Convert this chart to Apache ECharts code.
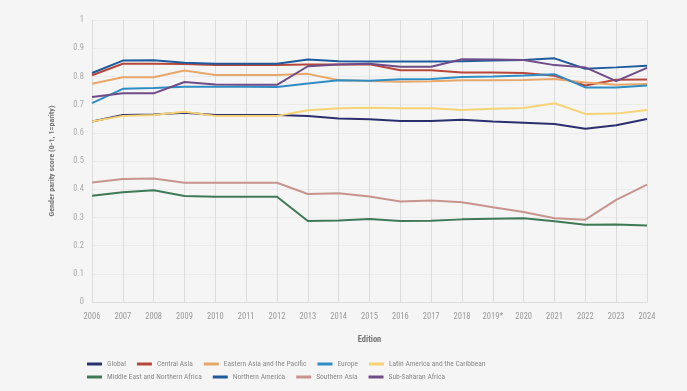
<!DOCTYPE html>
<html><head><meta charset="utf-8">
<script src="https://cdn.jsdelivr.net/npm/echarts@6/dist/echarts.min.js"></script>
<style>html,body{margin:0;padding:0;background:#f5f5f5;}#c{width:687px;height:391px;}</style>
</head><body><div id="c"></div>
<script>
const editions = ["2006","2007","2008","2009","2010","2011","2012","2013","2014","2015","2016","2017","2018","2019*","2020","2021","2022","2023","2024"];
const yTicks = [0,0.1,0.2,0.3,0.4,0.5,0.6,0.7,0.8,0.9,1];

const global = [0.640,0.663,0.665,0.671,0.663,0.663,0.663,0.660,0.651,0.648,0.642,0.642,0.646,0.640,0.636,0.631,0.614,0.627,0.649];
const centralAsia = [0.804,0.845,0.845,0.844,0.840,0.840,0.840,0.842,0.842,0.843,0.822,0.822,0.814,0.814,0.812,0.802,0.768,0.788,0.789];
const eastAsiaPacific = [0.774,0.797,0.797,0.821,0.805,0.805,0.805,0.809,0.786,0.784,0.781,0.783,0.786,0.786,0.787,0.791,0.778,0.770,0.773];
const europe = [0.705,0.756,0.759,0.763,0.763,0.763,0.762,0.775,0.786,0.785,0.790,0.791,0.798,0.800,0.803,0.808,0.761,0.761,0.768];
const latinAmerica = [0.640,0.660,0.663,0.675,0.660,0.660,0.660,0.680,0.687,0.689,0.687,0.687,0.681,0.685,0.688,0.705,0.667,0.668,0.681];
const menaf = [0.377,0.389,0.396,0.376,0.373,0.373,0.373,0.287,0.289,0.294,0.287,0.288,0.293,0.295,0.297,0.286,0.274,0.275,0.271];
const northAmerica = [0.812,0.856,0.857,0.848,0.845,0.845,0.845,0.860,0.854,0.853,0.853,0.853,0.854,0.856,0.858,0.864,0.827,0.832,0.838];
const southAsia = [0.424,0.436,0.438,0.423,0.423,0.423,0.423,0.383,0.386,0.374,0.356,0.360,0.354,0.336,0.319,0.297,0.292,0.362,0.416];
const subSaharan = [0.727,0.740,0.740,0.780,0.771,0.770,0.770,0.836,0.842,0.845,0.834,0.834,0.861,0.860,0.858,0.840,0.832,0.783,0.830];

const seriesDefs = [
  ["Global", global, "#2c2f6e"],
  ["Central Asia", centralAsia, "#b8473b"],
  ["Eastern Asia and the Pacific", eastAsiaPacific, "#e8a76a"],
  ["Europe", europe, "#2f8dc4"],
  ["Latin America and the Caribbean", latinAmerica, "#f6d375"],
  ["Middle East and Northern Africa", menaf, "#3e7a56"],
  ["Northern America", northAmerica, "#1f5b9c"],
  ["Southern Asia", southAsia, "#c7948e"],
  ["Sub-Saharan Africa", subSaharan, "#6f4b88"]
];
const names = seriesDefs.map(d => d[0]);

const chart = echarts.init(document.getElementById('c'), null, {renderer:'canvas'});
const font = "'Liberation Sans Narrow', 'Roboto Condensed', Roboto, 'Liberation Sans', sans-serif";
const legendBase = {
  itemWidth: 15, itemHeight: 3, itemGap: 11, icon: 'rect', orient: 'horizontal',
  padding: 0,
  textStyle: {color: '#8a8a8a', fontSize: 7.5, fontFamily: font}
};
chart.setOption({
  backgroundColor: '#f5f5f5',
  animation: false,
  textStyle: {fontFamily: font},
  grid: {left: 92, right: 40, top: 20, bottom: 89, containLabel: false},
  legend: [
    Object.assign({}, legendBase, {left: 87, top: 360, data: names.slice(0, 5)}),
    Object.assign({}, legendBase, {left: 87, top: 373, data: names.slice(5)})
  ],
  xAxis: {
    type: 'category', data: editions, boundaryGap: false,
    name: 'Edition', nameLocation: 'middle', nameGap: 33,
    nameTextStyle: {color: '#777', fontSize: 8.5, fontWeight: 'bold', fontFamily: font},
    axisLine: {show: true, lineStyle: {color: '#dcdcdc'}},
    axisTick: {show: false},
    axisLabel: {color: '#999', fontSize: 8.5, margin: 10, interval: 0, fontFamily: font},
    splitLine: {show: true, lineStyle: {color: '#dcdcdc', width: 1}}
  },
  yAxis: {
    type: 'value', min: 0, max: 1, interval: 0.1,
    name: 'Gender parity score (0-1, 1=parity)', nameLocation: 'middle', nameGap: 36,
    nameTextStyle: {color: '#777', fontSize: 8, fontWeight: 'bold', fontFamily: font},
    axisLine: {show: false}, axisTick: {show: false},
    axisLabel: {color: '#aaa', fontSize: 8.5, margin: 8, fontFamily: font,
      formatter: v => { const t = yTicks.find(x => Math.abs(x - v) < 1e-6); return t === undefined ? '' : String(t); }},
    splitLine: {show: true, lineStyle: {color: '#ebebeb', width: 1}}
  },
  series: seriesDefs.map(d => ({
    name: d[0], type: 'line', data: d[1], symbol: 'none',
    lineStyle: {width: 2, color: d[2]}, itemStyle: {color: d[2]}
  }))
});
</script></body></html>
